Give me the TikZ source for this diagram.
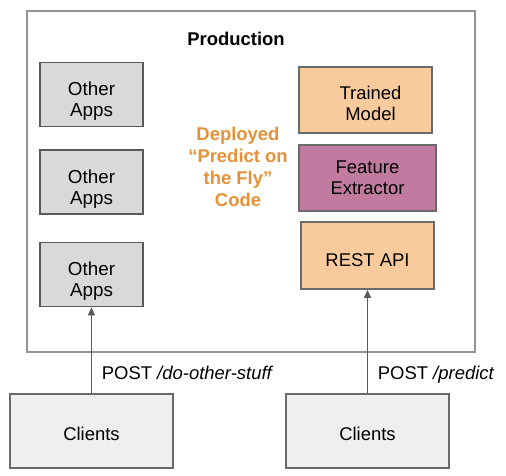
\documentclass[tikz,border=0pt]{standalone}
\usepackage{fontspec}
\setmainfont{Liberation Sans}
\usetikzlibrary{positioning}
\usetikzlibrary{arrows.meta}

\definecolor{boxgray}{HTML}{D9D9D9}
\definecolor{clientgray}{HTML}{EFEFEF}
\definecolor{modelorange}{HTML}{F9CB9C}
\definecolor{featurepurple}{HTML}{C27BA0}
\definecolor{textorange}{HTML}{E69138}
\definecolor{edgegray}{HTML}{595959}

\tikzset{
    appbox/.style={draw=edgegray, line width=1.1pt, fill=boxgray, align=center,
        minimum width=2.06cm, minimum height=1.22cm, text height=27.5pt,
        font=\fontsize{10.7}{12}\selectfont},
    servebox/.style={draw=edgegray!90, line width=1.1pt, fill=modelorange, align=center,
        minimum width=2.66cm, minimum height=1.32cm, font=\fontsize{10.5}{12}\selectfont},
    clientbox/.style={draw=edgegray!90, line width=0.6pt, fill=clientgray,
        minimum width=3.26cm, minimum height=1.48cm, text height=11pt,
        font=\fontsize{10.5}{12}\selectfont},
    request/.style={draw=edgegray, line width=0.6pt, -{Triangle[width=4pt,length=4.5pt]}},
}

\begin{document}
\begin{tikzpicture}
        \useasboundingbox (0,0) rectangle (10.12,-9.52);
        \node[draw=gray!85, line width=0.6pt, minimum width=8.96cm, minimum height=6.82cm]
            (Production) at (5.02,-3.63) {};
        \node[font=\bfseries\fontsize{10.5}{12}\selectfont] (ProductionTitle) at (4.72,-0.78) {Production};

        \node[appbox] (OtherApps1) at (1.83,-1.89) {Other\\Apps};
        \node[appbox] (OtherApps2) at (1.83,-3.64) {Other\\Apps};
        \node[appbox] (OtherApps3) at (1.83,-5.49) {Other\\Apps};

        \node[servebox, text height=23pt] (TrainedModel) at (7.31,-2.00) {\hspace{0.2cm}Trained\\\hspace{0.2cm}Model};
        \node[servebox, fill=featurepurple, minimum width=2.74cm] (FeatureExtractor)
            at (7.35,-3.56) {Feature\\Extractor};
        \node[servebox, minimum height=1.34cm, text height=13pt] (RestApi) at (7.35,-5.11) {REST API};

        \node[align=center, text=textorange, font=\bfseries\fontsize{10.5}{12.5}\selectfont]
            (DeployedCode) at (4.76,-3.34) {Deployed\\``Predict on\\the Fly''\\Code};

        \node[clientbox] (Clients1) at (1.83,-8.62) {Clients};
        \node[clientbox] (Clients2) at (7.35,-8.62) {Clients};

        \draw[request] (Clients1.north) -- (OtherApps3.south)
            node[pos=0.24, right=0.08cm, font=\fontsize{10.5}{12}\selectfont] (OtherStuff) {POST \textit{/do-other-stuff}};
        \draw[request] (Clients2.north) -- (RestApi.south)
            node[pos=0.18, right=0.08cm, font=\fontsize{10.5}{12}\selectfont] (Predict) {POST \textit{/predict}};
    \end{tikzpicture}
\end{document}
